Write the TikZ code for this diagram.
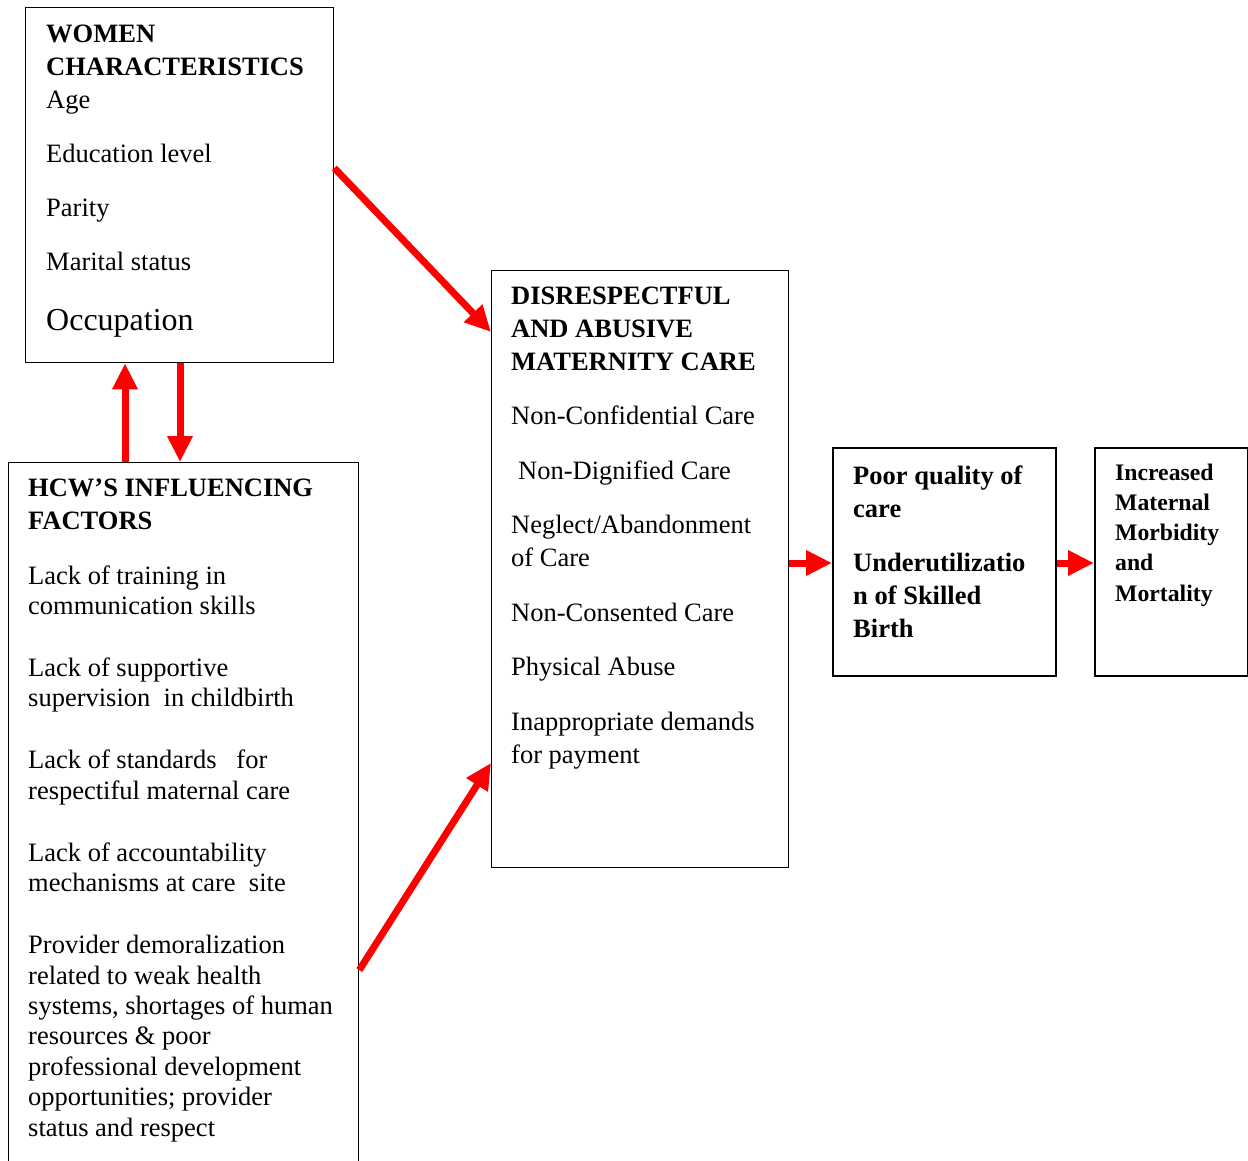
\documentclass[tikz,border=0pt]{standalone}
\usepackage{fontspec}
\setmainfont{Liberation Serif}
\usetikzlibrary{arrows.meta}
\begin{document}
\begin{tikzpicture}[x=1pt,y=-1pt,
  box/.style={draw=black, line width=1.3pt, inner sep=0pt, anchor=north west},
  thickbox/.style={box, line width=2pt},
  txt/.style={anchor=base west, inner sep=0pt, align=left, font=\fontsize{26.5}{30.4}\selectfont},
  redarrow/.style={draw=red, line width=7pt, -{Triangle[length=26pt,width=24pt]}}
]
\useasboundingbox (0,0) rectangle (1248,1160);
\clip (0,0) rectangle (1248,1160);
% boxes
\node[box, minimum width=308pt, minimum height=355pt] (women) at (25,7) {};
\node[box, minimum width=350pt, minimum height=760pt] (hcw) at (8,462) {};
\node[box, minimum width=297pt, minimum height=597pt] (dis) at (491,270) {};
\node[thickbox, minimum width=223pt, minimum height=228pt] (poor) at (832,447) {};
\node[thickbox, minimum width=153pt, minimum height=228pt] (inc) at (1094,447) {};
% texts (anchored at the baseline of their last line)
\node[txt, font=\fontsize{26.5}{33}\selectfont] (womentxt) at (46,330)
 {\textbf{WOMEN}\\ \textbf{CHARACTERISTICS}\\ Age\\[21pt] Education level\\[21pt] Parity\\[21pt] Marital status\\[27pt] {\fontsize{32}{33}\selectfont Occupation}};
\node[txt] (hcwtxt) at (28,1136)
 {\textbf{HCW’S INFLUENCING}\\[2.6pt] \textbf{FACTORS}\\[24.6pt]
  Lack of training in\\ communication skills\\[31.6pt]
  Lack of supportive\\ supervision\ \ in childbirth\\[31.6pt]
  Lack of standards\ \ \ for\\ respectiful maternal care\\[31.6pt]
  Lack of accountability\\ mechanisms at care\ \ site\\[31.6pt]
  Provider demoralization\\ related to weak health\\ systems, shortages of human\\ resources \& poor\\ professional development\\ opportunities; provider\\ status and respect};
\node[txt, font=\fontsize{26.5}{33}\selectfont] (distxt) at (511,763)
 {\textbf{DISRESPECTFUL}\\ \textbf{AND ABUSIVE}\\ \textbf{MATERNITY CARE}\\[21pt]
  Non-Confidential Care\\[22pt] \hspace*{7pt}Non-Dignified Care\\[21pt] Neglect/Abandonment\\ of Care\\[22pt]
  Non-Consented Care\\[21pt] Physical Abuse\\[22pt] Inappropriate demands\\ for payment};
\node[txt, font=\bfseries\fontsize{26.5}{33}\selectfont] (poortxt) at (853,637)
 {Poor quality of\\ care\\[21pt] Underutilizatio\\ n of Skilled\\ Birth};
\node[txt, font=\bfseries\fontsize{23.7}{30.2}\selectfont] (inctxt) at (1115,601)
 {Increased\\ Maternal\\ Morbidity\\ and\\ Mortality};
% arrows
\draw[redarrow] (women.east |- 0,168) -- (dis.west |- 0,332);
\draw[redarrow] (hcw.north -| 125,0) -- (women.south -| 125,0);
\draw[redarrow] (women.south -| 180,0) -- (hcw.north -| 180,0);
\draw[redarrow] (hcw.east |- 0,970) -- (dis.west |- 0,763);
\draw[redarrow] (dis.east |- 0,563) -- (poor.west |- 0,563);
\draw[redarrow] (poor.east |- 0,563) -- (inc.west |- 0,563);
\end{tikzpicture}
\end{document}
